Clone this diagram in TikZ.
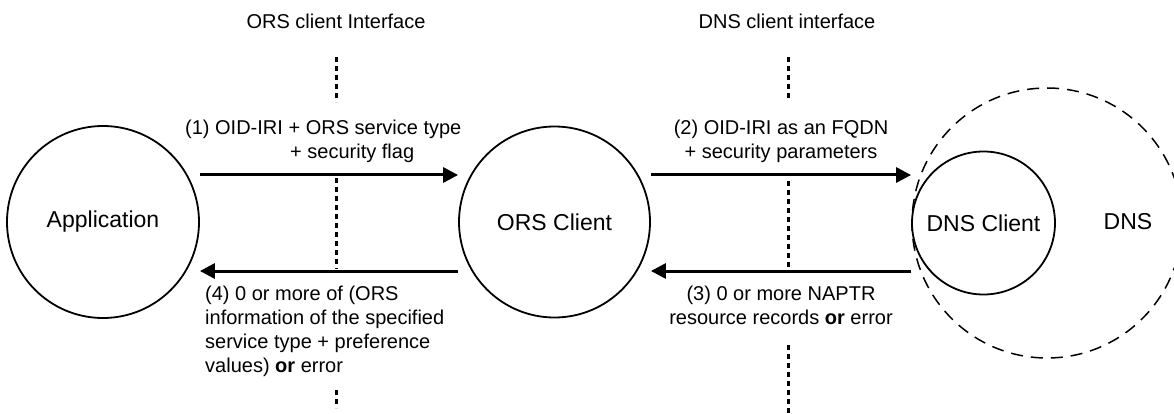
\documentclass[tikz,border=0pt]{standalone}
\usepackage{fontspec}
\setmainfont{Liberation Sans}
\usetikzlibrary{arrows.meta}
\tikzset{
  lbl/.style={font=\fontsize{20}{24}\selectfont, inner sep=0pt},
  ent/.style={circle, draw, line width=1.8pt, font=\fontsize{23}{27}\selectfont, inner sep=0pt},
  cloud/.style={circle, draw, line width=1.5pt, dash pattern=on 12pt off 8pt, inner sep=0pt},
  flow/.style={line width=3pt, -{Triangle[length=15pt,width=15pt]}},
  iface/.style={line width=3pt, dash pattern=on 5pt off 4pt},
}
\begin{document}
\begin{tikzpicture}[x=1pt,y=-1pt]
\clip (0,0) rectangle (1174,414);
\fill[white] (0,0) rectangle (1174,414);

% titles
\node[lbl] (t1) at (336,21) {ORS client Interface};
\node[lbl] (t2) at (787,21) {DNS client interface};

% entities
\node[ent, minimum size=192pt] (app) at (103,222) {Application};
\node[ent, minimum size=191pt] (ors) at (554.5,222) {ORS Client};
\node[cloud, minimum size=270pt] (dns) at (1047,223) {};
\node[ent, minimum size=143pt] (dnsc) at (983.5,223) {DNS Client};
\node[lbl, font=\fontsize{23}{27}\selectfont] (dnslbl) at (1128,222) {DNS};

% interface lines
\coordinate (a1) at (336,57);  \coordinate (a2) at (336,102);
\coordinate (a3) at (336,178); \coordinate (a4) at (336,269);
\coordinate (a5) at (336,390); \coordinate (a6) at (336,408);
\coordinate (b1) at (788,57);  \coordinate (b2) at (788,101);
\coordinate (b3) at (788,181); \coordinate (b4) at (788,269);
\coordinate (b5) at (788,345); \coordinate (b6) at (788,420);
\draw[iface] (a1) -- (a2);
\draw[iface] (a3) -- (a4);
\draw[iface] (a5) -- (a6);
\draw[iface] (b1) -- (b2);
\draw[iface] (b3) -- (b4);
\draw[iface] (b5) -- (b6);

% flows
\coordinate (r1) at (0,175);
\coordinate (r2) at (0,271);
\draw[flow] (app.east |- r1) -- (ors.west |- r1);
\draw[flow] (ors.east |- r1) -- (dnsc.west |- r1);
\draw[flow] (dnsc.west |- r2) -- (ors.east |- r2);
\draw[flow] (ors.west |- r2) -- (app.east |- r2);

% labels (base anchor = baseline of last line)
\node[lbl, anchor=base west, align=left] (l1) at (185,159)
  {(1) OID-IRI + ORS service type\\\hspace*{105pt}+ security flag};
\node[lbl, anchor=base, align=center] (l2) at (781,159)
  {(2) OID-IRI as an FQDN\\+ security parameters};
\node[lbl, anchor=base, align=center] (l3) at (781,324)
  {(3) 0 or more NAPTR\\resource records \textbf{or} error};
\node[lbl, anchor=base west, align=left] (l4) at (205,372)
  {(4) 0 or more of (ORS\\information of the specified\\service type + preference\\values) \textbf{or} error};
\end{tikzpicture}
\end{document}
